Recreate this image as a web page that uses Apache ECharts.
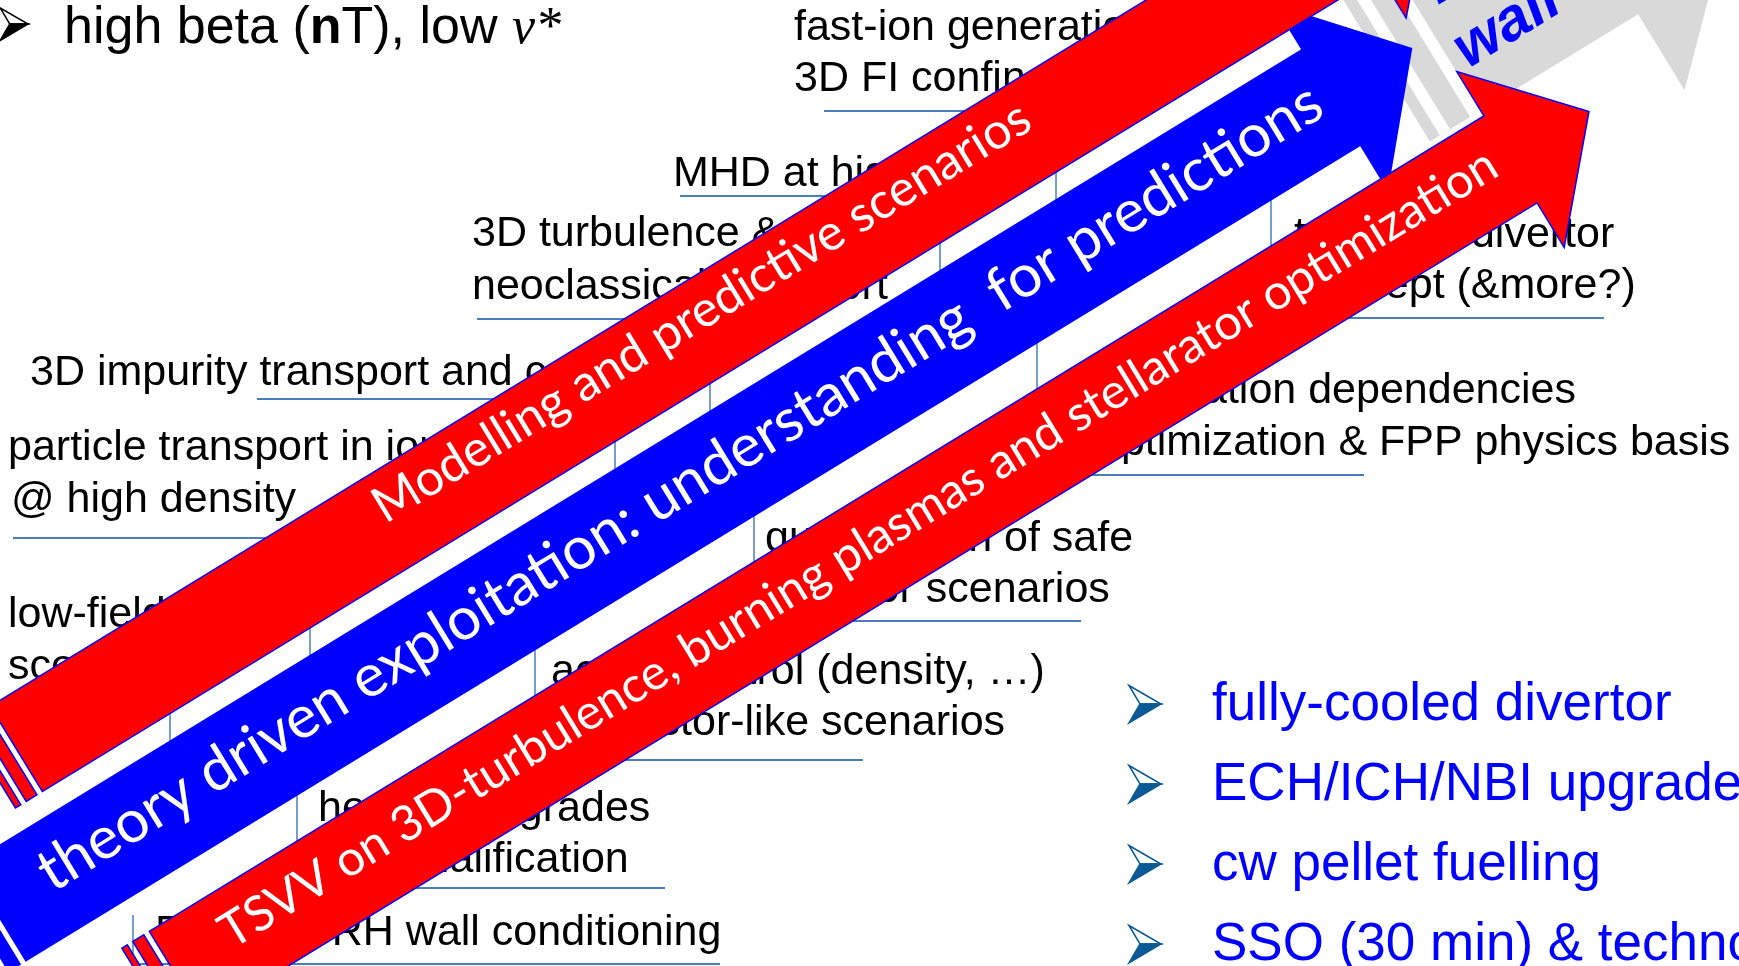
<!DOCTYPE html>
<html>
<head>
<meta charset="utf-8">
<script src="https://cdn.jsdelivr.net/npm/echarts@6/dist/echarts.min.js"></script>
<style>
  html, body { margin: 0; padding: 0; background: #fff; }
  #main { width: 1739px; height: 966px; }
</style>
</head>
<body>
<div id="main"></div>
<script>
// ---- slide text ----
const headlineParts = ['high beta (', 'n', 'T), low ', 'ν*'];
const arrowLabels = [
  'Modelling and predictive scenarios',
  'theory driven exploitation: understanding  for predictions',
  'TSVV on 3D-turbulence, burning plasmas and stellarator optimization'
];
const wallLabel = ['hot', 'wall'];
const noteLines = [
  'fast-ion generation &', '3D FI confinement',
  'MHD at high beta',
  '3D turbulence &', 'neoclassical transport',
  '3D impurity transport and control',
  'particle transport in ion-root', '@ high density',
  'low-field', 'scenarios',
  'active control (density, …)', 'in reactor-like scenarios',
  'heating upgrades', 'and qualification',
  'ECRH/ICRH wall conditioning',
  'qualification of safe', 'reactor scenarios',
  'configuration dependencies', 'optimization & FPP physics basis',
  'tungsten divertor', 'concept (&more?)'
];
const goalItems = ['fully-cooled divertor', 'ECH/ICH/NBI upgrades', 'cw pellet fuelling', 'SSO (30 min) & technology'];

// ---- layout (pixels) ----
const noteAnchors = [
  [794, 43], [794, 94],
  [673, 189],
  [472, 249], [472, 302],
  [30, 388],
  [8, 463], [11, 515],
  [8, 630], [8, 682],
  [551, 687], [551, 738],
  [318, 824], [318, 875],
  [155, 948],
  [765, 554], [780, 605],
  [1050, 406], [1097, 458],
  [1294, 250], [1294, 301]
];
// underlines: x1, x2, y
const noteRules = [
  [824, 1000, 111], [680, 900, 196], [477, 700, 319], [257, 560, 399], [13, 330, 538],
  [560, 863, 760], [380, 665, 888], [140, 720, 964], [800, 1081, 621], [1050, 1364, 475], [1320, 1604, 318]
];
// little vertical connector lines: x, y1, y2
const noteBrackets = [
  [170, 700, 752], [310, 615, 660], [615, 432, 480], [710, 365, 425], [940, 235, 285], [1056, 165, 218],
  [1271, 185, 252], [1037, 337, 395], [754, 508, 568], [535, 645, 705], [297, 785, 848], [133, 915, 966]
];
const goalBaselines = [724, 804, 884, 964];

const ANG = Math.atan(0.611);
// arrows: origin on centre line, half body width, tail / head-back / tip along the axis
const grayArrow = { ox: 1586, oy: -71, half: 100, tail: -185, back: 0, headHalf: 189, tip: 196, fill: '#d9d9d9', stroke: null };
const arrowGeom = [
  { ox: 850, oy: 239.5, half: 50, tail: -977, back: 590, headHalf: 101, tip: 682, fill: '#ff0000', stroke: '#0000ff', ls: -545, le: 216, lb: 4 },
  { ox: 850, oy: 391.5, half: 56, tail: -1000, back: 564, headHalf: 108, tip: 658, fill: '#0000ff', stroke: '#0000ff', ls: -942, le: 552, lb: 16 },
  { ox: 850, oy: 563, half: 51, tail: -790, back: 774, headHalf: 103, tip: 866, fill: '#ff0000', stroke: '#0000ff', ls: -729, le: 759, lb: 11 }
];

const SANS = '"Liberation Sans", Arial, sans-serif';
const CALI = 'Lato, "Open Sans", sans-serif';
const RULE = '#4a7ebb';
const NOTE_FS = 43;

const ctx = document.createElement('canvas').getContext('2d');
function textWidth(str, font) {
  ctx.font = font;
  return ctx.measureText(str).width;
}

// shape of an arrow in its own rotated frame
function arrowChildren(a) {
  const kids = [];
  const u = a.headHalf * 2 / 32;
  const stripe = (s1, s2) => ({
    type: 'polygon', silent: true,
    shape: { points: [[s1, -a.half], [s2, -a.half], [s2, a.half], [s1, a.half]] },
    style: { fill: a.fill, stroke: a.stroke || null, lineWidth: a.stroke ? 1.5 : 0 }
  });
  kids.push(stripe(a.tail - 5 * u, a.tail - 4 * u));
  kids.push(stripe(a.tail - 3 * u, a.tail - u));
  kids.push({
    type: 'polygon', silent: true,
    shape: {
      points: [[a.tail, -a.half], [a.back, -a.half], [a.back, -a.headHalf], [a.tip, 0],
               [a.back, a.headHalf], [a.back, a.half], [a.tail, a.half]]
    },
    style: { fill: a.fill, stroke: a.stroke || null, lineWidth: a.stroke ? 1.5 : 0 }
  });
  return kids;
}

const els = [];

// notes behind the arrows
noteLines.forEach((t, i) => {
  const [x, b] = noteAnchors[i];
  els.push({
    type: 'text', x: x, y: b - 0.3465 * NOTE_FS, silent: true,
    style: { text: t, fill: '#000', fontSize: NOTE_FS, fontFamily: SANS, textAlign: 'left', textVerticalAlign: 'middle', align: 'left', verticalAlign: 'middle' }
  });
});
noteRules.forEach(([x1, x2, y]) => {
  els.push({ type: 'line', silent: true, shape: { x1: x1, y1: y, x2: x2, y2: y }, style: { stroke: RULE, lineWidth: 2 } });
});
noteBrackets.forEach(([x, y1, y2]) => {
  els.push({ type: 'line', silent: true, shape: { x1: x, y1: y1, x2: x, y2: y2 }, style: { stroke: RULE, lineWidth: 1.5 } });
});

// grey "wall" arrow in the background
const grayKids = arrowChildren(grayArrow);
wallLabel.forEach((t, i) => {
  const base = i === 0 ? -8 : 62;
  grayKids.push({
    type: 'text', x: i === 0 ? -166 : -174, y: base - 0.3465 * 60, silent: true,
    style: { text: t, fill: '#0000ff', fontSize: 60, fontWeight: 'bold', fontStyle: 'italic', fontFamily: SANS,
             textAlign: 'left', textVerticalAlign: 'middle', align: 'left', verticalAlign: 'middle' }
  });
});
els.push({ type: 'group', x: grayArrow.ox, y: grayArrow.oy, rotation: ANG, children: grayKids });

// the three big arrows: blue first, red ones on top
[1, 0, 2].forEach(k => {
  const a = arrowGeom[k];
  const kids = arrowChildren(a);
  const label = arrowLabels[k];
  const fs = (a.le - a.ls) / textWidth(label, '100px ' + CALI) * 100;
  kids.push({
    type: 'text', x: a.ls, y: a.lb - 0.387 * fs, silent: true,
    style: { text: label, fill: '#fff', fontSize: fs, fontFamily: CALI,
             textAlign: 'left', textVerticalAlign: 'middle', align: 'left', verticalAlign: 'middle' }
  });
  els.push({ type: 'group', x: a.ox, y: a.oy, rotation: ANG, children: kids });
});

// bullet shape ➢
function bullet(tipX, tipY, sc, color) {
  const tl = [tipX - 32 * sc, tipY - 18.5 * sc], bl = [tipX - 32 * sc, tipY + 19 * sc];
  const notch = [tipX - 21 * sc, tipY], tip = [tipX, tipY];
  return [
    { type: 'polygon', silent: true, shape: { points: [tl, tip, notch] }, style: { fill: '#fff', stroke: color, lineWidth: 1.5 } },
    { type: 'polygon', silent: true, shape: { points: [notch, tip, bl] }, style: { fill: color, stroke: color, lineWidth: 1.5 } }
  ];
}

// blue goal list
goalItems.forEach((t, i) => {
  const b = goalBaselines[i];
  bullet(1161, b - 20, 1, '#0a5a96').forEach(e => els.push(e));
  els.push({
    type: 'text', x: 1212, y: b - 0.3465 * 53, silent: true,
    style: { text: t, fill: '#0000ff', fontSize: 53, fontFamily: SANS, textAlign: 'left', textVerticalAlign: 'middle', align: 'left', verticalAlign: 'middle' }
  });
});

// headline with bold n and greek nu
bullet(28, 24, 0.87, '#000').forEach(e => els.push(e));
let hx = 64;
const hb = 47;
headlineParts.forEach((t, i) => {
  const weight = i === 1 ? 'bold' : 'normal';
  const fam = i === 3 ? '"Liberation Serif", "DejaVu Serif", serif' : SANS;
  const style = i === 3 ? 'italic' : 'normal';
  els.push({
    type: 'text', x: hx, y: hb - 0.3465 * 52, silent: true,
    style: { text: t, fill: '#000', fontSize: 52, fontWeight: weight, fontStyle: style, fontFamily: fam,
             textAlign: 'left', textVerticalAlign: 'middle', align: 'left', verticalAlign: 'middle' }
  });
  hx += textWidth(t, style + ' ' + weight + ' 52px ' + fam);
});

const chart = echarts.init(document.getElementById('main'));
chart.setOption({
  backgroundColor: '#ffffff',
  animation: false,
  graphic: { elements: els }
});
</script>
</body>
</html>
